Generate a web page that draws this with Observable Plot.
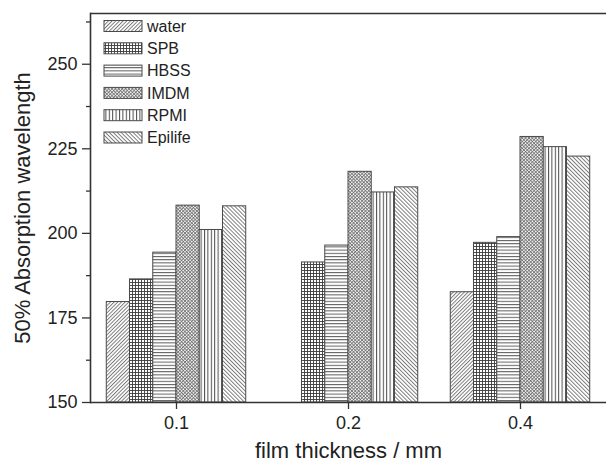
<!DOCTYPE html>
<html>
<head>
<meta charset="utf-8">
<script src="https://cdn.jsdelivr.net/npm/d3@7"></script>
<script src="https://cdn.jsdelivr.net/npm/@observablehq/plot@0.6"></script>
<style>
  html, body { margin: 0; padding: 0; background: #fff; }
  #chart { width: 606px; height: 461px; }
</style>
</head>
<body>
<div id="chart"></div>
<script>
// ---- data ----
const thickness = ["0.1", "0.2", "0.4"];
const series = ["water", "SPB", "HBSS", "IMDM", "RPMI", "Epilife"];
const water   = [179.7, null,  182.6];
const SPB     = [186.4, 191.4, 197.2];
const HBSS    = [194.3, 196.4, 198.9];
const IMDM    = [208.2, 218.2, 228.5];
const RPMI    = [201.0, 212.1, 225.5];
const Epilife = [208.0, 213.6, 222.7];
const yDomain = [150, 265];
const yTicks = [150, 175, 200, 225, 250];
const yMinorTicks = [162.5, 187.5, 212.5, 237.5, 262.5];
const xLabel = "film thickness / mm";
const yLabel = "50% Absorption wavelength";

const seriesValues = {water, SPB, HBSS, IMDM, RPMI, Epilife};
const data = [];
thickness.forEach((t, j) => {
  series.forEach((s) => {
    const v = seriesValues[s][j];
    if (v != null) data.push({thickness: t, series: s, value: v});
  });
});
const patternUrl = (s) => `url(#pat-${s})`;

const plot = Plot.plot({
  width: 606,
  height: 461,
  marginLeft: 90,
  marginRight: 0,
  marginTop: 13,
  marginBottom: 59,
  style: {fontFamily: "'Liberation Sans', Arial, sans-serif", color: "#222", background: "white", overflow: "visible"},
  fx: {domain: thickness, padding: 0, round: false},
  x: {domain: series, paddingInner: 0, paddingOuter: 0.7, round: false, axis: null},
  y: {domain: yDomain},
  color: {type: "identity"},
  marks: [
    Plot.barY(data, {fx: "thickness", x: "series", y1: yDomain[0], y2: "value", fill: (d) => patternUrl(d.series), stroke: "#4a4a4a", strokeWidth: 1}),
    Plot.ruleY([yDomain[0]], {stroke: "#333", strokeWidth: 1.6}),
    Plot.ruleY([yDomain[1]], {stroke: "#333", strokeWidth: 1.6}),
    Plot.frame({anchor: "left", facetAnchor: "left", stroke: "#333", strokeWidth: 1.6}),
    Plot.axisY({ticks: yTicks, tickSize: 8, tickPadding: 5, fontSize: 18, label: null, stroke: "#333", strokeWidth: 1.3}),
    Plot.axisY({ticks: yMinorTicks, tickSize: 4, tickFormat: () => "", label: null, stroke: "#333", strokeWidth: 1.3}),
    Plot.axisY({ticks: [], label: yLabel, labelAnchor: "center", labelArrow: "none", labelOffset: 76, fontSize: 22}),
    Plot.axisFx({anchor: "bottom", tickSize: 7, tickPadding: 7, fontSize: 18, label: null, stroke: "#333", strokeWidth: 1.3}),
    Plot.axisFx({anchor: "bottom", ticks: [], label: xLabel, labelAnchor: "center", labelArrow: "none", labelOffset: 55, fontSize: 22})
  ]
});

document.getElementById("chart").appendChild(plot);

// ---- hatch patterns ----
const svg = d3.select(plot.tagName.toLowerCase() === "svg" ? plot : plot.querySelector("svg"));
const defs = svg.insert("defs", ":first-child");
function linePattern(id, size, angle, lines, color, width) {
  const p = defs.append("pattern")
    .attr("id", id).attr("patternUnits", "userSpaceOnUse")
    .attr("width", size).attr("height", size)
    .attr("patternTransform", angle ? `rotate(${angle})` : null);
  p.append("rect").attr("width", size).attr("height", size).attr("fill", "#fff");
  lines.forEach(([x1, y1, x2, y2]) => {
    p.append("line").attr("x1", x1).attr("y1", y1).attr("x2", x2).attr("y2", y2)
      .attr("stroke", color).attr("stroke-width", width);
  });
}
linePattern("pat-water", 2.6, 45, [[0.5, 0, 0.5, 2.6]], "#707070", 0.9);
linePattern("pat-SPB", 3, 0, [[0.5, 0, 0.5, 3], [0, 0.5, 3, 0.5]], "#3a3a3a", 0.9);
linePattern("pat-HBSS", 3.2, 0, [[0, 0.5, 3.2, 0.5]], "#5a5a5a", 1);
linePattern("pat-IMDM", 2.4, 45, [[0.5, 0, 0.5, 2.4], [0, 0.5, 2.4, 0.5]], "#6a6a6a", 0.8);
linePattern("pat-RPMI", 3.4, 0, [[0.5, 0, 0.5, 3.4]], "#4a4a4a", 1);
linePattern("pat-Epilife", 2.8, -45, [[0.5, 0, 0.5, 2.8]], "#707070", 0.9);

// ---- legend ----
const legend = svg.append("g").attr("class", "legend").attr("text-anchor", "start");
series.forEach((s, i) => {
  const y = 20.5 + i * 22.3;
  legend.append("rect").attr("x", 104).attr("y", y).attr("width", 38).attr("height", 11)
    .attr("fill", patternUrl(s)).attr("stroke", "#4a4a4a").attr("stroke-width", 1);
  legend.append("text").attr("x", 147).attr("y", y + 5.5).attr("dy", "0.35em")
    .attr("text-anchor", "start")
    .attr("font-size", 16).attr("fill", "#222").text(s);
});
</script>
</body>
</html>
